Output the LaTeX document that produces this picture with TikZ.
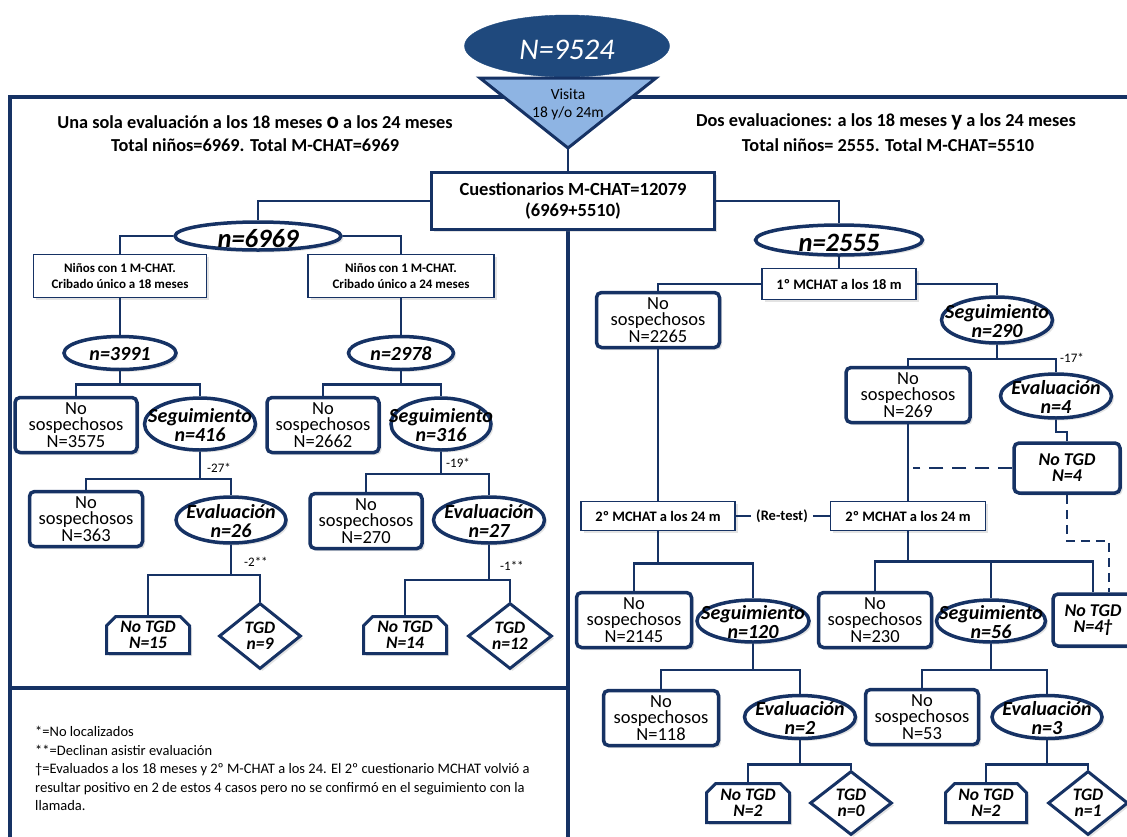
\documentclass[tikz,border=0pt]{standalone}
\usepackage{fontspec}
\setmainfont{Carlito}
\usetikzlibrary{shapes.geometric,shapes.misc,shadows}
\definecolor{navy}{RGB}{22,50,100}
\definecolor{oscuro}{RGB}{31,73,125}
\definecolor{celeste}{RGB}{142,180,227}
\newcommand{\ctr}[1]{\makebox[0pt]{\smash{\lower.45em\hbox{\begin{tabular}{@{}c@{}}#1\end{tabular}}}}}

\begin{document}
\begin{tikzpicture}
[x=1pt,y=-1pt,
 conn/.style={draw=navy,line width=2.5pt},
 marco/.style={draw=navy,line width=4pt},
 sombra/.style={drop shadow={opacity=.22,shadow xshift=2.5pt,shadow yshift=-2.5pt}},
 ell/.style={ellipse,draw=navy,line width=3.5pt,fill=white,inner sep=0pt,sombra,minimum width=111pt,minimum height=44pt,font=\fontsize{20}{19}\selectfont\bfseries\itshape},
 sosp/.style={rectangle,rounded corners=5pt,draw=navy,line width=3.5pt,fill=white,inner sep=0pt,align=center,sombra,minimum width=115pt,minimum height=55pt,font=\fontsize{18.5}{16.2}\selectfont},
 caja/.style={rectangle,draw=navy,line width=1.5pt,fill=white,inner sep=0pt,align=center,sombra,font=\fontsize{13}{16}\selectfont\bfseries},
 notgd/.style={chamfered rectangle,chamfered rectangle corners={north west,north east},chamfered rectangle xsep=6pt,draw=navy,line width=3pt,fill=white,inner sep=0pt,align=center,sombra,minimum width=83pt,minimum height=37pt,font=\fontsize{17.5}{16}\selectfont\bfseries\itshape},
 tgd/.style={diamond,aspect=1.2,draw=navy,line width=3pt,fill=white,inner sep=0pt,align=center,sombra,minimum width=82pt,minimum height=66pt,font=\fontsize{17.5}{16}\selectfont\bfseries\itshape},
 lab/.style={anchor=west,inner sep=0pt,font=\fontsize{13}{14}\selectfont},
 tit/.style={inner sep=0pt,font=\fontsize{18.3}{20}\selectfont\bfseries}]
\useasboundingbox (0,0) rectangle (1127,836);
\draw[marco] (10,840) -- (10,97) -- (1140,97);
\draw[marco] (568,230) -- (568,840);
\draw[marco] (10,688) -- (568,688);
\node[ellipse,fill=oscuro,draw=oscuro,minimum width=205pt,minimum height=62pt,inner sep=0pt,text=white,font=\fontsize{30}{30}\selectfont\itshape] (n9524) at (567,46) {\ctr{N=9524}};
\coordinate (tl) at (480,78);
\coordinate (tr) at (656,78);
\coordinate (apex) at (568,148);
\draw[draw=navy,line width=3pt,fill=celeste] (tl) -- (tr) -- (apex) -- cycle;
\node[inner sep=0pt,align=center,font=\fontsize{15.5}{18}\selectfont] (visita) at (568,104) {Visita\\18 y/o 24m};
\node[tit] (titA1) at (255,122) {Una sola evaluación a los 18 meses {\fontsize{23}{22}\selectfont o} a los 24 meses};
\node[tit] (titA2) at (255,145) {Total niños=6969. Total M-CHAT=6969};
\node[tit] (titB1) at (886,122) {Dos evaluaciones: a los 18 meses {\fontsize{23}{22}\selectfont y} a los 24 meses};
\node[tit] (titB2) at (888,145) {Total niños= 2555. Total M-CHAT=5510};
\node[caja,line width=3.5pt,minimum width=283pt,minimum height=57pt,font=\fontsize{18.5}{21}\selectfont\bfseries] (cuest) at (573,201) {Cuestionarios M-CHAT=12079\\(6969+5510)};
\node[ell,font=\fontsize{26.5}{28}\selectfont\bfseries\itshape,minimum width=166pt,minimum height=28pt] (n6969) at (258,236) {\ctr{n=6969}};
\node[caja,minimum width=173pt,minimum height=43pt] (nin18) at (120,276) {Niños con 1 M-CHAT.\\Cribado único a 18 meses};
\node[caja,minimum width=186pt,minimum height=43pt] (nin24) at (401,276) {Niños con 1 M-CHAT.\\Cribado único a 24 meses};
\node[ell,font=\fontsize{20}{20}\selectfont\bfseries\itshape,minimum width=112pt,minimum height=33pt] (n3991) at (120,353) {\ctr{n=3991}};
\node[ell,font=\fontsize{20}{20}\selectfont\bfseries\itshape,minimum width=105pt,minimum height=33pt] (n2978) at (401,353) {\ctr{n=2978}};
\node[sosp,minimum width=122pt] (ns3575) at (76,425) {No\\sospechosos\\N=3575};
\node[ell,minimum width=111pt,minimum height=52pt] (s416) at (200,424) {\ctr{Seguimiento\\n=416}};
\node[sosp,minimum width=112pt] (ns2662) at (323,425) {No\\sospechosos\\N=2662};
\node[ell,minimum width=100pt,minimum height=52pt] (s316) at (441,424) {\ctr{Seguimiento\\n=316}};
\node[sosp,minimum width=113pt] (ns363) at (86,519) {No\\sospechosos\\N=363};
\node[ell,minimum width=110pt,minimum height=46pt] (ev26) at (231,520) {\ctr{Evaluación\\n=26}};
\node[sosp,minimum width=112pt] (ns270) at (366,521) {No\\sospechosos\\N=270};
\node[ell,minimum width=111pt,minimum height=46pt] (ev27) at (489,520) {\ctr{Evaluación\\n=27}};
\node[notgd] (nt15) at (148,635) {No TGD\\N=15};
\node[tgd] (tgd9) at (260,636) {TGD\\n=9};
\node[notgd] (nt14) at (405,635) {No TGD\\N=14};
\node[tgd,minimum width=84pt] (tgd12) at (510,636) {TGD\\n=12};
\node[lab] (l27) at (207,468) {-27*};
\node[lab] (l2) at (244,562) {-2**};
\node[lab] (l19) at (446,463) {-19*};
\node[lab] (l1) at (500,566) {-1**};
\node[anchor=north west,align=left,inner sep=0pt,font=\fontsize{14.5}{18.5}\selectfont] (leyenda) at (35,726) {*=No localizados\\**=Declinan asistir evaluación\\†=Evaluados a los 18 meses y 2º M-CHAT a los 24. El 2º cuestionario MCHAT volvió a\\resultar positivo  en 2 de estos 4 casos pero no se confirmó en el seguimiento con la\\llamada.};
\node[ell,font=\fontsize{26.5}{28}\selectfont\bfseries\itshape,minimum width=167pt,minimum height=30pt] (n2555) at (839,240) {\ctr{n=2555}};
\node[caja,minimum width=154pt,minimum height=31pt,font=\fontsize{14.5}{17}\selectfont\bfseries] (m18) at (839,284) {1º MCHAT a los 18 m};
\node[sosp,minimum width=123pt] (ns2265) at (658,320) {No\\sospechosos\\N=2265};
\node[ell,minimum width=111pt,minimum height=46pt] (s290) at (997,320) {\ctr{Seguimiento\\n=290}};
\node[sosp,minimum width=124pt] (ns269) at (908,395) {No\\sospechosos\\N=269};
\node[ell,minimum width=111pt,minimum height=44pt] (ev4) at (1056,396) {\ctr{Evaluación\\n=4}};
\node[lab] (l17) at (1060,358) {-17*};
\node[sosp,minimum width=106pt,minimum height=50pt,font=\fontsize{18}{16}\selectfont\bfseries\itshape] (nt4) at (1067,468) {No TGD\\N=4};
\node[caja,minimum width=154pt,minimum height=29pt,font=\fontsize{14.5}{17}\selectfont\bfseries] (m24a) at (658,516) {2º MCHAT a los 24 m};
\node[inner sep=5pt,font=\fontsize{14.5}{17}\selectfont\bfseries] (retest) at (782,516) {(Re-test)};
\node[caja,minimum width=155pt,minimum height=29pt,font=\fontsize{14.5}{17}\selectfont\bfseries] (m24b) at (908,516) {2º MCHAT a los 24 m};
\node[sosp,minimum width=115pt] (ns2145) at (634,620) {No\\sospechosos\\N=2145};
\node[ell,minimum width=112pt,minimum height=42pt] (s120) at (753,621) {\ctr{Seguimiento\\n=120}};
\node[sosp,minimum width=113pt] (ns230) at (875,620) {No\\sospechosos\\N=230};
\node[ell,minimum width=109pt,minimum height=42pt] (s56) at (991,621) {\ctr{Seguimiento\\n=56}};
\node[sosp,minimum width=80pt,minimum height=52pt,font=\fontsize{18}{16}\selectfont\bfseries\itshape] (nt4b) at (1093,620) {No TGD\\N=4†};
\node[sosp,minimum width=115pt] (ns118) at (661,718) {No\\sospechosos\\N=118};
\node[ell,minimum width=111pt,minimum height=43pt] (ev2) at (800,717) {\ctr{Evaluación\\n=2}};
\node[sosp,minimum width=113pt] (ns53) at (922,717) {No\\sospechosos\\N=53};
\node[ell,minimum width=110pt,minimum height=43pt] (ev3) at (1047,717) {\ctr{Evaluación\\n=3}};
\node[notgd,minimum height=39pt] (nt2a) at (748,803) {No TGD\\N=2};
\node[tgd,minimum height=64pt] (tgd0) at (851,803) {TGD\\n=0};
\node[notgd,minimum width=81pt,minimum height=39pt] (nt2b) at (986,803) {No TGD\\N=2};
\node[tgd,minimum width=80pt,minimum height=64pt] (tgd1) at (1088,803) {TGD\\n=1};
\coordinate (dfin) at (913,468);
\coordinate (dcodo) at (1109,541);
\draw[conn] (apex) -- (apex |- cuest.north);
\foreach \from/\lado/\to in {cuest/west/n6969,cuest/east/n2555,n6969/west/nin18,n6969/east/nin24,m18/west/ns2265,m18/east/s290}
\draw[conn] (\from.\lado) -| (\to.north);
\foreach \from/\to in {nin18/n3991,nin24/n2978,n2555/m18,ns2265/m24a,ns269/m24b,m24a/retest,retest/m24b}
\draw[conn] (\from) -- (\to);
\foreach \from/\to/\d in {n3991/ns3575/13,n3991/s416/13,n2978/ns2662/13,n2978/s316/13,s416/ns363/27,s416/ev26/27,s316/ns270/22,s316/ev27/22,ev26/nt15/30,ev26/tgd9/30,ev27/nt14/35,ev27/tgd12/35,s290/ns269/14,s290/ev4/14,ev4/nt4/12,m24a/ns2145/32,m24a/s120/32,m24b/ns230/30,m24b/s56/30,m24b/nt4b/30,s120/ns118/26,s120/ev2/26,s56/ns53/26,s56/ev3/26,ev2/nt2a/24,ev2/tgd0/24,ev3/nt2b/24,ev3/tgd1/24}
\draw[conn] (\from.south) -- ++(0,\d) -| (\to.north);
\draw[conn,dash pattern=on 14pt off 9pt] (nt4.west) -- (dfin);
\draw[conn,dash pattern=on 9pt off 6pt] (nt4.south) |- (dcodo) -- (dcodo |- nt4b.north);
\end{tikzpicture}
\end{document}
